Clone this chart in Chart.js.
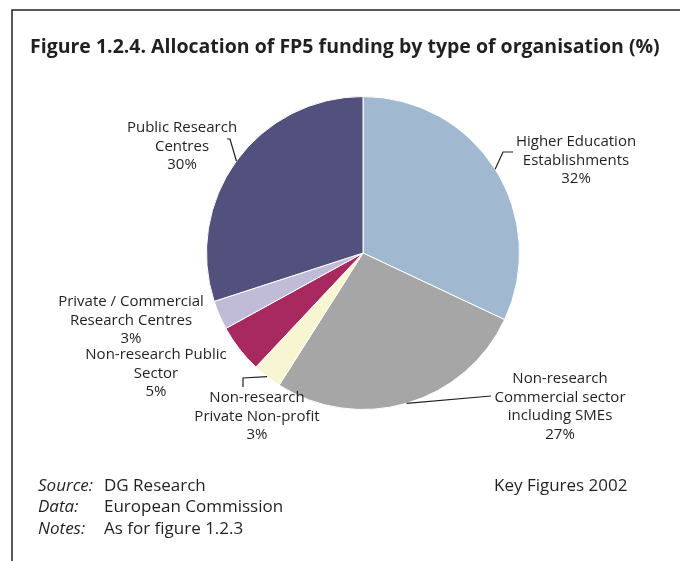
<!DOCTYPE html>
<html>
<head>
<meta charset="utf-8">
<script src="https://cdn.jsdelivr.net/npm/chart.js@4"></script>
<style>
  body { margin: 0; background: #fff; }
  #wrap { width: 680px; height: 561px; }
</style>
</head>
<body>
<div id="wrap"><canvas id="pie" width="680" height="561"></canvas></div>
<script>
// chart data
const categories = [
  'Higher Education Establishments',
  'Non-research Commercial sector including SMEs',
  'Non-research Private Non-profit',
  'Non-research Public Sector',
  'Private / Commercial Research Centres',
  'Public Research Centres'
];
const shares = [32, 27, 3, 5, 3, 30];
const labelLines = [
  ['Higher Education', 'Establishments'],
  ['Non-research', 'Commercial sector', 'including SMEs'],
  ['Non-research', 'Private Non-profit'],
  ['Non-research Public', 'Sector'],
  ['Private / Commercial', 'Research Centres'],
  ['Public Research', 'Centres']
];
const colors = ['#a0b8d0', '#a6a6a6', '#f8f5d2', '#a8295f', '#c0bcd8', '#52507c'];

const titleText = 'Figure 1.2.4. Allocation of FP5 funding by type of organisation (%)';
const notes = [['Source:', 'DG Research'], ['Data:', 'European Commission'], ['Notes:', 'As for figure 1.2.3']];
const rightNote = 'Key Figures 2002';

// label placement (x = centre of text, y = centre of first line, leader = points from label to bend)
const labelPos = [
  { x: 576, y: 142, leader: [[513, 152], [503, 152]] },
  { x: 560, y: 379, leader: [[491, 396]] },
  { x: 257, y: 398, leader: [[243, 387], [243, 378]] },
  { x: 156, y: 355, leader: null },
  { x: 131, y: 302, leader: null },
  { x: 182, y: 128, leader: [[227, 139], [230, 139]] }
];

const INK = '#231f20';
const FONT = '"Open Sans", "Noto Sans", sans-serif';

const decor = {
  id: 'decor',
  afterDraw(chart) {
    const ctx = chart.ctx;
    ctx.save();

    // frame
    ctx.strokeStyle = '#222';
    ctx.lineWidth = 1.5;
    ctx.beginPath();
    ctx.moveTo(12, 561);
    ctx.lineTo(12, 10);
    ctx.lineTo(680, 10);
    ctx.stroke();

    // title, fitted to its width in the figure
    let size = 20;
    ctx.font = 'bold ' + size + 'px ' + FONT;
    while (ctx.measureText(titleText).width > 637 && size > 10) {
      size -= 0.25;
      ctx.font = 'bold ' + size + 'px ' + FONT;
    }
    ctx.fillStyle = INK;
    ctx.textAlign = 'left';
    ctx.textBaseline = 'middle';
    ctx.fillText(titleText, 30, 47);

    // slice labels and leaders
    const arcs = chart.getDatasetMeta(0).data;
    ctx.font = '15px ' + FONT;
    ctx.textAlign = 'center';
    arcs.forEach((arc, i) => {
      const p = labelPos[i];
      const lines = labelLines[i].concat([shares[i] + '%']);
      lines.forEach((t, k) => ctx.fillText(t, p.x, p.y + k * 18.5));
      if (p.leader) {
        const mid = (arc.startAngle + arc.endAngle) / 2;
        const ex = arc.x + Math.cos(mid) * arc.outerRadius;
        const ey = arc.y + Math.sin(mid) * arc.outerRadius;
        ctx.strokeStyle = INK;
        ctx.lineWidth = 1.2;
        ctx.beginPath();
        ctx.moveTo(p.leader[0][0], p.leader[0][1]);
        p.leader.slice(1).forEach(q => ctx.lineTo(q[0], q[1]));
        ctx.lineTo(ex, ey);
        ctx.stroke();
      }
    });

    // source notes
    ctx.textAlign = 'left';
    notes.forEach((n, k) => {
      const y = 486 + k * 21.5;
      ctx.font = 'italic 17px ' + FONT;
      ctx.fillText(n[0], 38, y);
      ctx.font = '17px ' + FONT;
      ctx.fillText(n[1], 104, y);
    });
    ctx.fillText(rightNote, 494, 486);

    ctx.restore();
  }
};

new Chart(document.getElementById('pie'), {
  type: 'pie',
  data: {
    labels: categories,
    datasets: [{
      data: shares,
      backgroundColor: colors,
      borderColor: '#fff',
      borderWidth: 1
    }]
  },
  options: {
    responsive: false,
    animation: false,
    layout: { padding: { left: 206, top: 96, right: 160, bottom: 151 } },
    plugins: {
      legend: { display: false },
      tooltip: { enabled: false }
    }
  },
  plugins: [decor]
});
</script>
</body>
</html>
